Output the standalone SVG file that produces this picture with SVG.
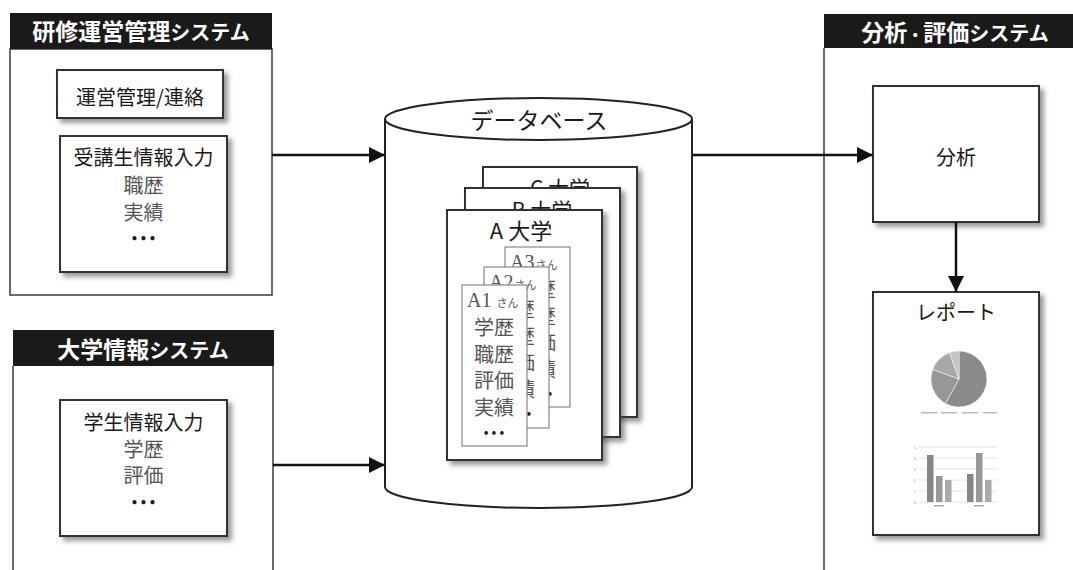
<svg xmlns="http://www.w3.org/2000/svg" width="1073" height="570" viewBox="0 0 1073 570">
<style>
.hdr{fill:#1a1a1a}
.hdrt{fill:#fff;font-family:"Noto Sans CJK JP","Noto Sans",sans-serif;font-weight:bold;text-anchor:middle}
.sys{fill:#fff;stroke:#3a3a3a;stroke-width:1.5}
.box{fill:#fff;stroke:#333;stroke-width:2}
.t{font-family:"Noto Sans CJK JP","Noto Sans",sans-serif;fill:#1a1a1a;text-anchor:middle}
.g{font-family:"Liberation Serif","Noto Sans CJK JP",serif;fill:#555;text-anchor:middle}
.card{fill:#fff;stroke:#888;stroke-width:1.2}
.conn{stroke:#111;stroke-width:2.5;fill:none}
.grid{stroke:#ddd;stroke-width:0.8}
</style>
<defs>
<filter id="sh" x="-10%" y="-10%" width="130%" height="130%">
<feDropShadow dx="4" dy="4" stdDeviation="2.5" flood-color="#444" flood-opacity="0.55"/>
</filter>
<marker id="ah" viewBox="0 0 16 16" refX="16" refY="8" markerWidth="16" markerHeight="16" markerUnits="userSpaceOnUse" orient="auto">
<path d="M0,0 L16,8 L0,16 Z" fill="#111"/>
</marker>
</defs>

<g id="sys-training">
<rect class="sys" x="10" y="49" width="262" height="246"/>
<rect class="hdr" x="10" y="13" width="262" height="36"/>
<text class="hdrt" x="141" y="40"><tspan font-size="23">研修運営管理</tspan><tspan font-size="20">システム</tspan></text>
</g>
<g id="node-unei">
<rect class="box" x="57" y="70" width="166" height="48" filter="url(#sh)"/>
<text class="t" x="140" y="105" font-size="20">運営管理/連絡</text>
</g>
<g id="node-jukousei">
<rect class="box" x="60" y="136" width="167" height="136" filter="url(#sh)"/>
<text class="t" x="143.5" y="165" font-size="20">受講生情報入力</text>
<text class="g" x="143.5" y="193" font-size="20">職歴</text>
<text class="g" x="143.5" y="220" font-size="20">実績</text>
<text class="t" x="143.5" y="243" font-size="16" fill="#333">• • •</text>
</g>

<g id="sys-univ">
<path class="sys" d="M13,366 L13,572 M273,366 L273,572" fill="none"/>
<rect class="hdr" x="13" y="330" width="261" height="36"/>
<text class="hdrt" x="143" y="358"><tspan font-size="23">大学情報</tspan><tspan font-size="20">システム</tspan></text>
</g>
<g id="node-gakusei">
<rect class="box" x="60" y="400" width="167" height="136" filter="url(#sh)"/>
<text class="t" x="143.5" y="430" font-size="20">学生情報入力</text>
<text class="g" x="143.5" y="457" font-size="20">学歴</text>
<text class="g" x="143.5" y="483" font-size="20">評価</text>
<text class="t" x="143.5" y="507" font-size="16" fill="#333">• • •</text>
</g>

<g id="sys-analysis">
<path class="sys" d="M824,48 L824,572" fill="none"/>
<rect class="hdr" x="824" y="14" width="250" height="34"/>
<text class="hdrt" x="955" y="41"><tspan font-size="23">分析</tspan><tspan font-size="16">・</tspan><tspan font-size="23">評価</tspan><tspan font-size="20">システム</tspan></text>
</g>
<g id="node-bunseki">
<rect class="box" x="873" y="86" width="166" height="136" filter="url(#sh)"/>
<text class="t" x="956" y="165" font-size="20">分析</text>
</g>
<g id="node-report">
<rect class="box" x="873" y="292" width="166" height="243" filter="url(#sh)"/>
<text class="t" x="956" y="320" font-size="20">レポート</text>
<g id="pie">
<path d="M959,379 L959,351 A28,28 0 1,1 945.4,403.5 Z" fill="#8a8a8a" stroke="#f4f4f4" stroke-width="0.6"/>
<path d="M959,379 L945.4,403.5 A28,28 0 0,1 932.7,369.4 Z" fill="#979797" stroke="#f4f4f4" stroke-width="0.6"/>
<path d="M959,379 L932.7,369.4 A28,28 0 0,1 949.4,352.7 Z" fill="#a8a8a8" stroke="#f4f4f4" stroke-width="0.6"/>
<path d="M959,379 L949.4,352.7 A28,28 0 0,1 959,351 Z" fill="#c4c4c4" stroke="#f4f4f4" stroke-width="0.6"/>
<g fill="#bbb">
<rect x="921" y="412" width="16" height="1.5"/>
<rect x="941" y="412" width="16" height="1.5"/>
<rect x="962" y="412" width="16" height="1.5"/>
<rect x="983" y="412" width="14" height="1.5"/>
</g>
</g>
<g id="bars">
<line class="grid" x1="919" y1="447" x2="997" y2="447"/>
<line class="grid" x1="919" y1="458" x2="997" y2="458"/>
<line class="grid" x1="919" y1="469" x2="997" y2="469"/>
<line class="grid" x1="919" y1="480" x2="997" y2="480"/>
<line class="grid" x1="919" y1="491" x2="997" y2="491"/>
<line class="grid" x1="919" y1="502" x2="997" y2="502"/>
<g font-family="Liberation Sans, sans-serif" font-size="4" fill="#999" text-anchor="end">
<text x="916" y="448.5">5</text><text x="916" y="459.5">4</text><text x="916" y="470.5">3</text>
<text x="916" y="481.5">2</text><text x="916" y="492.5">1</text><text x="916" y="503.5">0</text>
</g>
<rect x="927" y="455" width="6.5" height="47" fill="#868686"/>
<rect x="936" y="476" width="6.5" height="26" fill="#979797"/>
<rect x="945" y="480" width="6.5" height="22" fill="#a9a9a9"/>
<rect x="967" y="474" width="6.5" height="28" fill="#868686"/>
<rect x="976" y="453" width="6.5" height="49" fill="#979797"/>
<rect x="985" y="480" width="6.5" height="22" fill="#a9a9a9"/>
<rect x="934" y="505" width="10" height="1.5" fill="#aaa"/>
<rect x="974" y="505" width="10" height="1.5" fill="#aaa"/>
</g>
</g>

<g id="node-db">
<path d="M385,119 L385,487 A153.5,21 0 0,0 692,487 L692,119" fill="#fff" stroke="#222" stroke-width="2"/>
<ellipse cx="538.5" cy="119" rx="153.5" ry="21" fill="#fff" stroke="#222" stroke-width="2"/>
<text class="t" x="539" y="129" font-size="23">データベース</text>

<g id="card-c">
<rect class="box" x="483" y="167" width="154" height="250" filter="url(#sh)"/>
<text class="t" x="560" y="196" font-size="21">C 大学</text>
</g>
<g id="card-b">
<rect class="box" x="465" y="188" width="155" height="249" filter="url(#sh)"/>
<text class="t" x="542" y="218" font-size="21">B 大学</text>
</g>
<g id="card-a">
<rect class="box" x="447" y="210" width="155" height="250" filter="url(#sh)"/>
<text class="t" x="521" y="239" font-size="22">A 大学</text>
</g>
<g id="card-a3">
<rect class="card" x="505" y="247" width="65" height="160"/>
<text font-family="Liberation Serif, serif" font-size="20" fill="#555" x="510" y="269">A3<tspan font-family="Noto Sans CJK JP, sans-serif" font-size="11" dx="1">さん</tspan></text>
<text class="g" x="546" y="297" font-size="20">歴</text>
<text class="g" x="546" y="324" font-size="20">歴</text>
<text class="g" x="546" y="350" font-size="20">価</text>
<text class="g" x="546" y="377" font-size="20">績</text>
<text class="t" x="550" y="398" font-size="14" fill="#333">•</text>
</g>
<g id="card-a2">
<rect class="card" x="484" y="267" width="65" height="161"/>
<text font-family="Liberation Serif, serif" font-size="20" fill="#555" x="489" y="289">A2<tspan font-family="Noto Sans CJK JP, sans-serif" font-size="11" dx="1">さん</tspan></text>
<text class="g" x="525" y="317" font-size="20">歴</text>
<text class="g" x="525" y="344" font-size="20">歴</text>
<text class="g" x="525" y="370" font-size="20">価</text>
<text class="g" x="525" y="397" font-size="20">績</text>
<text class="t" x="529" y="418" font-size="14" fill="#333">•</text>
</g>
<g id="card-a1">
<rect class="card" x="462" y="285" width="65" height="161"/>
<text font-family="Liberation Serif, serif" font-size="20" fill="#555" x="467" y="307">A1<tspan font-family="Noto Sans CJK JP, sans-serif" font-size="11" dx="5">さん</tspan></text>
<text class="g" x="494" y="335" font-size="20">学歴</text>
<text class="g" x="494" y="362" font-size="20">職歴</text>
<text class="g" x="494" y="388" font-size="20">評価</text>
<text class="g" x="494" y="415" font-size="20">実績</text>
<text class="t" x="494" y="437" font-size="14" fill="#333">• • •</text>
</g>
</g>

<g id="connectors">
<path class="conn" d="M272,155 L385,155" marker-end="url(#ah)"/>
<path class="conn" d="M273,465 L385,465" marker-end="url(#ah)"/>
<path class="conn" d="M692,155 L873,155" marker-end="url(#ah)"/>
<path class="conn" d="M956,222 L956,292" marker-end="url(#ah)"/>
</g>
</svg>
